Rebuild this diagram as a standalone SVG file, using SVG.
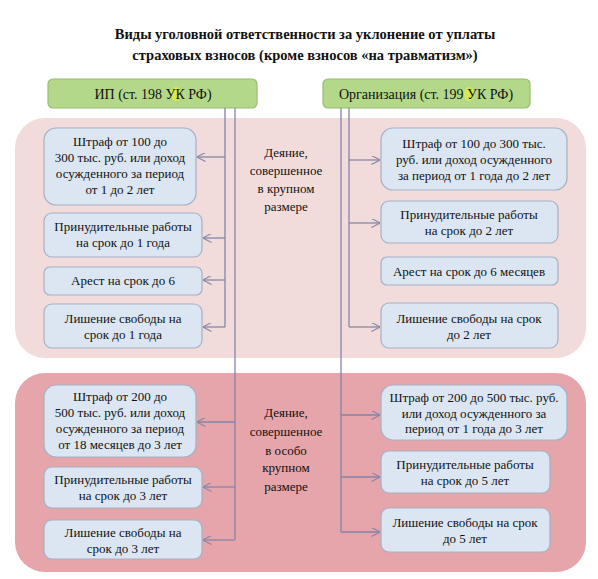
<svg xmlns="http://www.w3.org/2000/svg" width="598" height="579" viewBox="0 0 598 579">
<style>
.title{font-family:"Liberation Serif","Times New Roman","DejaVu Serif",serif;font-size:14.5px;font-weight:bold;fill:#111;text-anchor:middle}
.t{font-family:"Liberation Serif","Times New Roman","DejaVu Serif",serif;font-size:13px;fill:#111;text-anchor:middle}
.h{font-family:"Liberation Serif","Times New Roman","DejaVu Serif",serif;font-size:14px;fill:#111;text-anchor:middle}
.box{fill:#dce6f2;stroke:#a3b0c6;stroke-width:1.2}
.hdr{fill:#b3d88a;stroke:#98bb73;stroke-width:1.2}
.hl{fill:#e4f23a;opacity:0.75}
.c{fill:none;stroke:#8585a8;stroke-width:1.3}
</style>
<defs>
<marker id="ah" viewBox="0 0 10 10" refX="9.5" refY="5" markerWidth="9" markerHeight="9" markerUnits="userSpaceOnUse" orient="auto">
<path d="M0,0 L10,5 L0,10" fill="none" stroke="#8585a8" stroke-width="1.2"/>
</marker>
</defs>
<rect width="598" height="579" fill="#ffffff"/>
<text class="title" x="305" y="39">Виды уголовной ответственности за уклонение от уплаты</text>
<text class="title" x="305" y="60">страховых взносов (кроме взносов «на травматизм»)</text>

<g id="section-large">
<rect x="15" y="118" width="571" height="240" rx="30" fill="#f2dcdb"/>
<text class="t" x="286" y="157">Деяние,</text>
<text class="t" x="286" y="175">совершенное</text>
<text class="t" x="286" y="193">в крупном</text>
<text class="t" x="286" y="211">размере</text>
</g>
<g id="section-xlarge">
<rect x="15" y="373" width="571" height="199" rx="30" fill="#e6a5aa"/>
<text class="t" x="286" y="417">Деяние,</text>
<text class="t" x="286" y="436">совершенное</text>
<text class="t" x="286" y="455">в особо</text>
<text class="t" x="286" y="472">крупном</text>
<text class="t" x="286" y="491">размере</text>
</g>

<g id="hdr-ip">
<rect class="hdr" x="48" y="79" width="209" height="29" rx="5"/>
<ellipse class="hl" cx="176" cy="94" rx="5" ry="7"/>
<text class="h" x="153" y="99">ИП (ст. 198 УК РФ)</text>
</g>
<g id="hdr-org">
<rect class="hdr" x="323" y="79" width="207" height="29" rx="5"/>
<ellipse class="hl" cx="469" cy="94" rx="5" ry="7"/>
<text class="h" x="426" y="99">Организация (ст. 199 УК РФ)</text>
</g>

<g id="l1">
<rect class="box" x="44" y="128" width="152" height="77" rx="12"/>
<text class="t" x="120" y="146">Штраф от 100 до</text>
<text class="t" x="120" y="162">300 тыс. руб. или доход</text>
<text class="t" x="120" y="178">осужденного за период</text>
<text class="t" x="120" y="194">от 1 до 2 лет</text>
</g>
<g id="l2">
<rect class="box" x="44" y="213" width="158" height="44" rx="8"/>
<text class="t" x="123" y="231">Принудительные работы</text>
<text class="t" x="123" y="247">на срок до 1 года</text>
</g>
<g id="l3">
<rect class="box" x="44" y="267" width="158" height="28" rx="6"/>
<text class="t" x="123" y="285">Арест на срок до 6</text>
</g>
<g id="l4">
<rect class="box" x="44" y="304" width="158" height="44" rx="8"/>
<text class="t" x="123" y="323">Лишение свободы на</text>
<text class="t" x="123" y="339">срок до 1 года</text>
</g>

<g id="r1">
<rect class="box" x="381" y="128" width="186" height="62" rx="12"/>
<text class="t" x="474" y="148">Штраф от 100 до 300 тыс.</text>
<text class="t" x="474" y="164">руб. или доход осужденного</text>
<text class="t" x="474" y="180">за период от 1 года до 2 лет</text>
</g>
<g id="r2">
<rect class="box" x="381" y="201" width="177" height="42" rx="8"/>
<text class="t" x="469" y="219">Принудительные работы</text>
<text class="t" x="469" y="235">на срок до 2 лет</text>
</g>
<g id="r3">
<rect class="box" x="381" y="257" width="177" height="28" rx="6"/>
<text class="t" x="469" y="276">Арест на срок до 6 месяцев</text>
</g>
<g id="r4">
<rect class="box" x="381" y="303" width="177" height="45" rx="8"/>
<text class="t" x="469" y="323">Лишение свободы на срок</text>
<text class="t" x="469" y="339">до 2 лет</text>
</g>

<g id="l5">
<rect class="box" x="44" y="385" width="152" height="72" rx="12"/>
<text class="t" x="120" y="401">Штраф от 200 до</text>
<text class="t" x="120" y="417">500 тыс. руб. или доход</text>
<text class="t" x="120" y="433">осужденного за период</text>
<text class="t" x="120" y="449">от 18 месяцев до 3 лет</text>
</g>
<g id="l6">
<rect class="box" x="44" y="467" width="158" height="41" rx="8"/>
<text class="t" x="123" y="484">Принудительные работы</text>
<text class="t" x="123" y="500">на срок до 3 лет</text>
</g>
<g id="l7">
<rect class="box" x="44" y="520" width="158" height="39" rx="8"/>
<text class="t" x="123" y="537">Лишение свободы на</text>
<text class="t" x="123" y="553">срок до 3 лет</text>
</g>

<g id="r5">
<rect class="box" x="381" y="385" width="186" height="55" rx="12"/>
<text class="t" x="474" y="402">Штраф от 200 до 500 тыс. руб.</text>
<text class="t" x="474" y="418">или доход осужденного за</text>
<text class="t" x="474" y="433">период от 1 года до 3 лет</text>
</g>
<g id="r6">
<rect class="box" x="381" y="451" width="169" height="42" rx="8"/>
<text class="t" x="465" y="469">Принудительные работы</text>
<text class="t" x="465" y="485">на срок до 5 лет</text>
</g>
<g id="r7">
<rect class="box" x="381" y="508" width="169" height="44" rx="8"/>
<text class="t" x="465" y="527">Лишение свободы на срок</text>
<text class="t" x="465" y="543">до 5 лет</text>
</g>

<g id="connectors">
<path class="c" d="M225,108 V327"/>
<path class="c" d="M235,108 V540"/>
<path class="c" d="M349,108 V327"/>
<path class="c" d="M341,108 V532"/>
<path class="c" d="M225,157 H197" marker-end="url(#ah)"/>
<path class="c" d="M225,238 H203" marker-end="url(#ah)"/>
<path class="c" d="M225,280 H203" marker-end="url(#ah)"/>
<path class="c" d="M225,327 H203" marker-end="url(#ah)"/>
<path class="c" d="M235,422 H197" marker-end="url(#ah)"/>
<path class="c" d="M235,487 H203" marker-end="url(#ah)"/>
<path class="c" d="M235,540 H203" marker-end="url(#ah)"/>
<path class="c" d="M349,160 H380" marker-end="url(#ah)"/>
<path class="c" d="M349,223 H380" marker-end="url(#ah)"/>
<path class="c" d="M349,327 H380" marker-end="url(#ah)"/>
<path class="c" d="M341,415 H380" marker-end="url(#ah)"/>
<path class="c" d="M341,477 H380" marker-end="url(#ah)"/>
<path class="c" d="M341,532 H380" marker-end="url(#ah)"/>
</g>
</svg>
